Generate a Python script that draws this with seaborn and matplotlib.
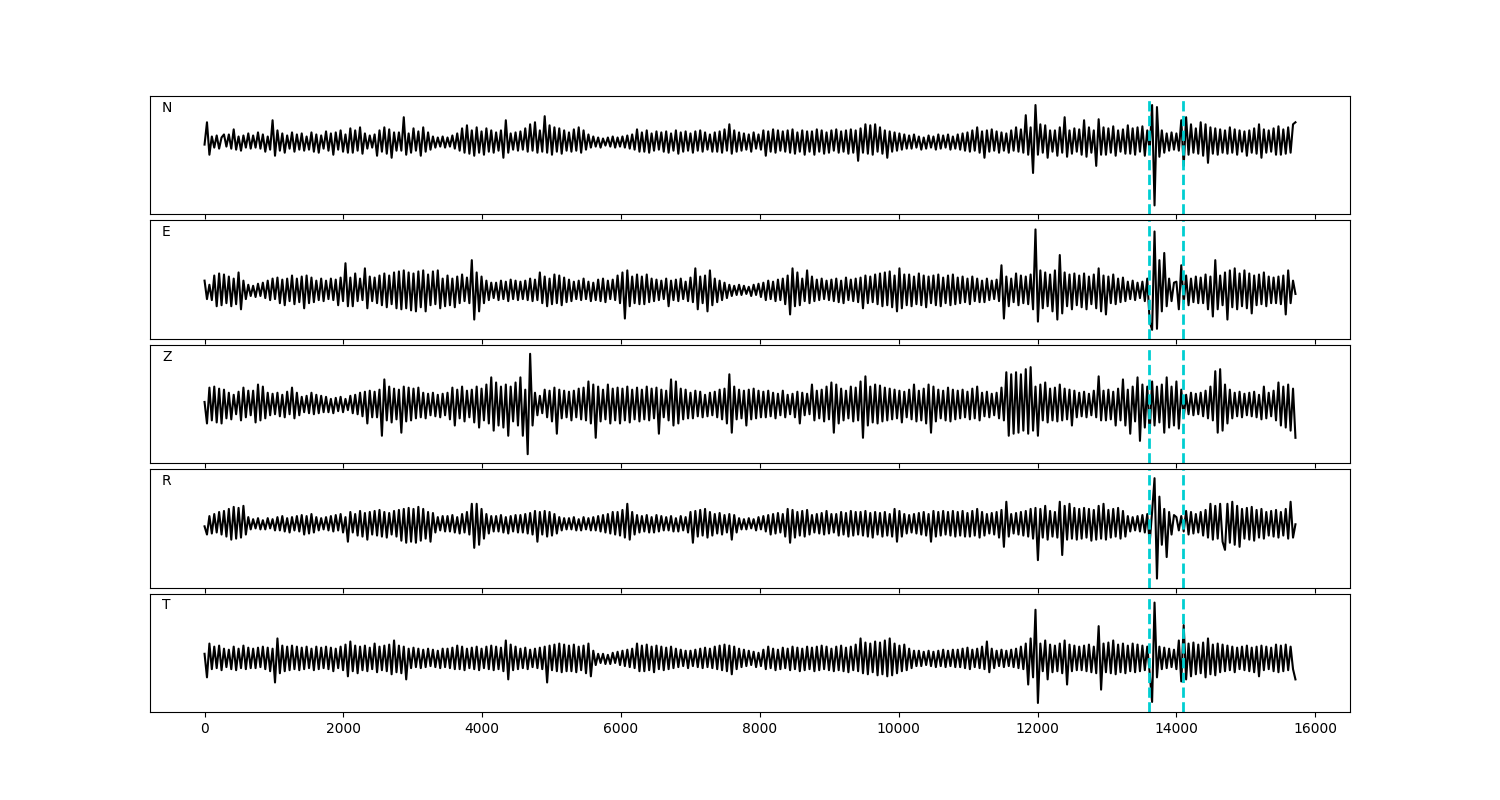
import numpy as np
import matplotlib
matplotlib.use("Agg")
import matplotlib.pyplot as plt
import seaborn as sns

# Component names
components = ["N", "E", "Z", "R", "T"]

# Sample spacing between the listed trace values (samples)
dt = 35

# Phase picks (sample index)
picks = [13600, 14090]

# Trace values (relative to baseline)
N = [
    -2, 20, -12, 6, -5, 7, -6, 5, 8, -4,
    8, -6, 13, -7, 6, -8, 7, -5, 9, -6,
    7, -5, 10, -6, 8, -9, 6, -7, 22, -13,
    12, -8, 9, -10, 7, -6, 10, -9, 8, -7,
    9, -8, 6, -7, 10, -9, 8, -10, 7, -6,
    11, -8, 9, -12, 10, -7, 12, -9, 8, -10,
    14, -10, 12, -8, 15, -11, 9, -6, 7, -5,
    8, -13, 12, -9, 15, -11, 13, -15, 10, -8,
    10, -8, 25, -12, 9, -10, 14, -8, 11, -13,
    15, -9, 10, -7, 6, -5, 5, -4, 6, -5,
    5, -4, 7, -6, 9, -8, 14, -10, 17, -11,
    12, -13, 15, -10, 11, -12, 14, -9, 12, -10,
    10, -8, 12, -15, 22, -10, 9, -7, 10, -8,
    11, -7, 14, -9, 18, -8, 20, -10, 12, -9,
    26, -10, 17, -12, 15, -9, 14, -11, 12, -8,
    10, -9, 13, -8, 15, -10, 12, -7, 8, -5,
    6, -4, 5, -5, 4, -3, 5, -4, 6, -5,
    5, -4, 6, -5, 7, -6, 8, -7, 13, -9,
    10, -9, 12, -10, 9, -8, 11, -7, 10, -9,
    11, -10, 9, -8, 12, -11, 10, -9, 11, -8,
    9, -10, 11, -8, 12, -9, 10, -7, 8, -9,
    10, -9, 11, -10, 13, -8, 18, -11, 12, -9,
    10, -8, 9,
    -7, 8, -9, 10, -6, 8, -7,
    12, -13, 11, -9, 13, -10, 12, -8, 11, -9,
    12, -10, 13, -11, 10, -9, 12, -12, 11, -9,
    11, -12, 13, -9, 12, -11, 10, -10, 12, -8,
    13, -10, 11, -9, 12, -11, 13, -10, 12, -18,
    14, -10, 18, -11, 17, -12, 18, -9, 15, -11,
    12, -15, 11, -9, 10, -8, 9, -7, 8, -6,
    7, -6, 8, -5, 6, -7, 5, -6, 7, -5,
    6, -7, 8, -6, 7, -5, 8, -7, 6, -6,
    8, -7, 9, -8, 10, -9, 12, -8, 15, -10,
    11, -15, 12, -9, 13, -8, 11, -10, 10, -8,
    9, -10, 12, -8, 15, -9, 13, -10, 27, -12,
    15, -30, 37, -12, 18, -10, 17, -15, 12, -9,
    12, -13, 15, -10, 25, -14, 12, -11, 14, -9,
    13, -12, 22, -14, 15, -10, 12, -23, 23, -12,
    15, -12, 14, -10, 16, -13, 12, -9, 13, -11,
    17, -11, 14, -12, 15, -9, 16, -13, 12, -8,
    37, -62, 35, -14, 12, -10, 9, -8, 10, -7,
    9, -8, 22, -23, 25, -12, 18, -10, 14, -11,
    20, -13, 18, -20, 15, -11, 14, -12, 13, -10,
    12, -11, 15, -10, 13, -12, 12, -9, 11, -13,
    12, -10, 14, -11, 18, -15, 13, -10, 12, -9,
    14, -12, 16, -12, 13, -11, 15, -10, 18, 20,
]

E = [
    10, -8, 6, -9, 15, -15, 17, -14, 16, -12,
    14, -15, 12, -13, 18, -18, 10, -8, 6, -5,
    5, -6, 7, -5, 8, -7, 10, -9, 12, -8,
    13, -12, 11, -14, 12, -10, 15, -13, 12, -11,
    14, -17, 15, -12, 13, -11, 10, -9, 12, -10,
    10, -8, 12, -9, 11, -14, 13, -10, 27, -15,
    13, -15, 17, -10, 12, -9, 22, -17, 14, -10,
    13, -12, 15, -14, 17, -16, 15, -13, 18, -17,
    19, -18, 20, -17, 18, -19, 17, -20, 19, -16,
    20, -20, 16, -14, 19, -13, 20, -17, 12, -15,
    15, -14, 12, -16, 14, -12, 16, -10, 13, -12,
    30, -28, 18, -20, 14, -12, 10, -9, 8, -7,
    8, -9, 10, -8, 9, -10, 11, -8, 10, -9,
    9, -8, 10, -9, 12, -10, 11, -9, 18, -12,
    14, -15, 12, -13, 16, -12, 15, -14, 13, -11,
    11, -10, 9, -8, 10, -9, 12, -8, 9, -10,
    8, -9, 11, -10, 12, -11, 10, -8, 11, -9,
    15, -12, 18, -27, 20, -15, 14, -12, 16, -13,
    14, -13, 16, -11, 12, -10, 11, -9, 10, -8,
    12, -15, 10, -9, 11, -10, 12, -8, 9, -10,
    13, -11, 22, -18, 14, -12, 15, -20, 20, -14,
    12, -11, 10, -9, 8, -7, 6, -5, 5, -4,
    6, -4, 5,
    -3, 4, -5, 6, -4, 7, -6,
    8, -9, 10, -8, 9, -10, 11, -9, 12, -13,
    15, -23, 22, -15, 18, -14, 12, -10, 20, -12,
    14, -10, 11, -9, 12, -8, 10, -9, 11, -10,
    12, -11, 10, -12, 13, -9, 11, -10, 12, -11,
    13, -17, 15, -12, 14, -11, 16, -13, 17, -15,
    18, -14, 19, -16, 15, -20, 22, -17, 16, -14,
    16, -15, 14, -13, 17, -14, 15, -16, 14, -12,
    15, -14, 16, -15, 13, -12, 15, -14, 16, -13,
    13, -12, 14, -11, 12, -13, 14, -10, 12, -11,
    10, -11, 12, -9, 10, -8, 11, -10, 25, -27,
    14, -15, 12, -11, 17, -14, 15, -12, 14, -13,
    16, -18, 60, -30, 20, -17, 18, -15, 16, -20,
    20, -28, 35, -22, 18, -15, 16, -18, 17, -14,
    15, -16, 17, -18, 14, -13, 16, -17, 22, -20,
    15, -23, 14, -12, 16, -13, 12, -11, 13, -10,
    9, -8, 10, -9, 8, -7, 9, -10, 12, -30,
    -38, 58, -37, 30, -20, 37, -15, 12, -10, 8,
    9, -18, 25, -12, 15, -14, 12, -11, 14, -12,
    13, -12, 16, -18, 14, -25, 30, -18, 15, -14,
    18, -28, 20, -16, 22, -18, 17, -15, 20, -17,
    17, -22, 15, -14, 16, -13, 18, -15, 14, -12,
    13, -12, 14, -13, 15, -23, 20, -12, 10, -3,
]

Z = [
    3, -18, 17, -15, 18, -17, 16, -18, 15, -13,
    12, -14, 10, -9, 13, -15, 17, -12, 14, -10,
    14, -17, 20, -15, 18, -13, 12, -10, 11, -9,
    12, -11, 10, -12, 13, -9, 17, -13, 12, -10,
    8, -7, 9, -8, 12, -9, 10, -8, 9, -7,
    8, -7, 6, -8, 7, -6, 8, -7, 6, -5,
    9, -8, 10, -9, 12, -11, 13, -18, 14, -12,
    13, -12, 15, -30, 25, -15, 18, -17, 16, -14,
    15, -27, 18, -16, 17, -15, 16, -13, 17, -12,
    12, -13, 11, -10, 12, -11, 10, -12, 11, -10,
    12, -14, 17, -20, 15, -13, 18, -16, 14, -12,
    15, -17, 18, -22, 16, -15, 20, -18, 27, -25,
    22, -20, 18, -22, 20, -30, 18, -16, 22, -20,
    27, -30, 15, -48, 50, -20, 12, -10, 9, -8,
    15, -12, 14, -16, 17, -28, 15, -13, 14, -12,
    13, -15, 14, -12, 16, -14, 17, -15, 23, -18,
    20, -32, 18, -16, 15, -14, 20, -18, 16, -15,
    17, -18, 16, -15, 18, -17, 15, -14, 17, -16,
    15, -14, 18, -15, 16, -13, 17, -28, 15, -12,
    14, -15, 25, -20, 23, -18, 16, -14, 15, -13,
    12, -13, 14, -11, 13, -12, 10, -11, 12, -10,
    13, -12, 15, -14, 16, -18, 30, -27, 18, -14,
    15, -13, 14,
    -20, 15, -14, 16, -13, 14, -12,
    13, -12, 14, -11, 12, -13, 11, -10, 14, -12,
    10, -9, 11, -12, 13, -18, 12, -10, 11, -9,
    20, -15, 14, -13, 15, -16, 18, -14, 22, -27,
    20, -18, 16, -15, 14, -13, 18, -16, 17, -15,
    23, -32, 28, -20, 18, -17, 20, -18, 19, -16,
    17, -15, 16, -14, 15, -13, 14, -17, 13, -12,
    15, -14, 20, -16, 14, -15, 16, -18, 20, -27,
    18, -16, 15, -13, 14, -15, 17, -16, 15, -14,
    14, -13, 15, -12, 13, -14, 16, -13, 18, -15,
    12, -11, 13, -12, 11, -10, 12, -13, 17, -15,
    32, -30, 30, -28, 32, -27, 30, -25, 35, -28,
    37, -25, 18, -30, 20, -15, 22, -17, 16, -15,
    17, -16, 20, -15, 16, -14, 15, -20, 14, -12,
    12, -11, 13, -12, 11, -10, 14, -12, 28, -15,
    14, -15, 15, -14, 13, -20, 16, -15, 25, -20,
    15, -28, 18, -16, 27, -35, 20, -22, 18, -27,
    23, -20, 18, -17, 20, -27, 27, -22, 18, -20,
    23, -23, 15, -12, 10, -9, 12, -10, 11, -9,
    12, -11, 14, -13, 18, -15, 33, -27, 35, -25,
    20, -18, 15, -13, 12, -11, 13, -12, 11, -10,
    12, -11, 13, -12, 10, -14, 18, -13, 12, -11,
    14, -15, 22, -20, 18, -22, 20, -25, 16, -32,
]

R = [
    -2, -10, 8, -9, 10, -8, 12, -10, 13, -12,
    15, -15, 17, -14, 16, -13, 18, -10, 7, -5,
    5, -4, 6, -5, 4, -5, 6, -4, 5, -6,
    7, -6, 8, -7, 6, -8, 7, -6, 8, -7,
    9, -10, 8, -9, 10, -8, 7, -6, 6, -5,
    7, -6, 8, -7, 9, -6, 10, -8, 7, -17,
    12, -8, 10, -11, 13, -12, 11, -15, 12, -10,
    13, -11, 14, -12, 12, -13, 11, -10, 13, -12,
    14, -16, 15, -18, 16, -17, 15, -18, 17, -16,
    15, -14, 12, -17, 11, -8, 7, -6, 8, -7,
    8, -7, 9, -8, 7, -9, 10, -8, 12, -10,
    20, -23, 20, -20, 15, -14, 10, -9, 8, -7,
    8, -7, 9, -8, 7, -9, 8, -7, 9, -8,
    9, -8, 10, -9, 11, -10, 13, -17, 12, -10,
    13, -12, 12, -11, 10, -9, 7, -6, 6, -5,
    6, -5, 7, -6, 5, -6, 7, -5, 6, -6,
    7, -6, 8, -7, 9, -8, 10, -9, 12, -10,
    12, -11, 14, -13, 20, -15, 12, -10, 9, -8,
    8, -7, 9, -8, 7, -8, 9, -7, 8, -6,
    7, -6, 8, -7, 6, -7, 8, -6, 7, -8,
    12, -18, 13, -12, 14, -11, 15, -13, 12, -11,
    10, -9, 11, -10, 9, -8, 10, -15, 9, -8,
    6, -5, 5,
    -5, 6, -4, 5, -6, 7, -5,
    8, -7, 9, -10, 10, -9, 11, -8, 10, -12,
    15, -18, 14, -13, 12, -11, 13, -12, 14, -10,
    9, -8, 10, -9, 11, -10, 13, -9, 10, -8,
    10, -11, 12, -10, 11, -12, 13, -11, 12, -10,
    12, -11, 13, -12, 11, -13, 12, -10, 11, -12,
    12, -11, 10, -12, 15, -17, 13, -12, 10, -9,
    9, -8, 10, -9, 11, -10, 12, -11, 10, -17,
    13, -12, 12, -11, 13, -10, 12, -11, 13, -12,
    12, -11, 13, -12, 11, -12, 13, -11, 15, -13,
    12, -11, 10, -9, 11, -10, 12, -13, 14, -22,
    22, -12, 10, -9, 11, -10, 12, -11, 13, -12,
    15, -14, 16, -35, 15, -13, 18, -15, 13, -12,
    12, -13, 22, -30, 18, -15, 20, -14, 16, -15,
    15, -14, 16, -13, 15, -16, 14, -15, 18, -14,
    20, -15, 14, -13, 15, -12, 16, -14, 13, -12,
    8, -7, 7, -6, 8, -7, 9, -8, 10, -18,
    12, 45, -53, 27, -20, 15, -32, 12, -10, 9,
    7, -6, 8, -7, 13, -10, 12, -9, 10, -8,
    12, -11, 14, -13, 20, -15, 18, -14, 20, -17,
    -25, 20, -18, 22, -20, 18, -22, 15, -14, 16,
    -15, 17, -16, 14, -13, 15, -14, 12, -11, 13,
    -12, 14, -13, 12, -11, 15, -14, 22, -13, 0,
]

T = [
    5, -18, 15, -10, 12, -9, 13, -11, 10, -8,
    9, -10, 12, -11, 10, -9, 13, -10, 11, -9,
    10, -9, 11, -8, 12, -10, 11, -12, 10, -23,
    20, -14, 13, -12, 12, -11, 13, -10, 12, -11,
    11, -10, 12, -9, 10, -11, 12, -10, 11, -9,
    12, -10, 11, -12, 10, -9, 12, -11, 14, -17,
    17, -12, 13, -14, 12, -11, 13, -12, 11, -10,
    15, -13, 12, -11, 13, -12, 14, -15, 18, -13,
    13, -14, 12, -20, 10, -9, 11, -8, 10, -9,
    9, -8, 10, -7, 9, -8, 8, -9, 10, -8,
    10, -9, 11, -10, 13, -10, 12, -11, 10, -9,
    11, -10, 12, -11, 10, -9, 12, -10, 13, -11,
    12, -10, 11, -12, 18, -20, 14, -11, 12, -10,
    10, -9, 11, -10, 9, -8, 10, -9, 11, -10,
    12, -23, 13, -11, 14, -12, 15, -13, 14, -12,
    13, -12, 14, -13, 12, -11, 13, -14, 15, -17,
    8, -6, 5, -4, 5, -5, 4, -5, 6, -4,
    7, -6, 8, -7, 9, -8, 10, -9, 15, -12,
    13, -12, 14, -11, 12, -13, 13, -10, 12, -11,
    11, -10, 12, -9, 10, -8, 9, -7, 8, -9,
    8, -7, 9, -8, 10, -9, 11, -8, 10, -9,
    12, -10, 13, -11, 14, -12, 13, -15, 12, -10,
    10, -8, 9,
    -7, 8, -6, 7, -8, 6, -7,
    9, -10, 12, -9, 10, -11, 9, -10, 11, -9,
    10, -11, 12, -10, 11, -12, 10, -11, 12, -10,
    11, -12, 12, -11, 13, -10, 12, -11, 10, -12,
    12, -11, 13, -12, 11, -13, 12, -11, 14, -12,
    20, -14, 16, -15, 15, -13, 17, -16, 16, -15,
    18, -17, 20, -16, 15, -14, 13, -12, 14, -11,
    10, -9, 8, -7, 8, -7, 7, -6, 8, -7,
    7, -8, 8, -7, 9, -8, 8, -7, 9, -8,
    9, -8, 10, -9, 11, -10, 9, -8, 10, -9,
    12, -10, 17, -13, 10, -9, 8, -7, 9, -8,
    8, -7, 9, -8, 10, -9, 12, -10, 15, -25,
    20, -18, 48, -43, 15, -12, 18, -20, 14, -13,
    13, -12, 15, -14, 18, -25, 14, -12, 13, -11,
    12, -11, 13, -12, 14, -13, 12, -14, 32, -30,
    15, -13, 16, -14, 18, -15, 14, -13, 15, -14,
    13, -12, 15, -13, 14, -12, 13, -11, 12, -14,
    -42, 55, -18, 12, -10, 11, -9, 10, -8, 9,
    -10, 18, -22, 33, -20, 15, -17, 16, -15, 14,
    -14, 16, -18, 20, -15, 14, -16, 15, -13, 14,
    -12, 13, -11, 12, -13, 11, -10, 12, -11, 13,
    -12, 11, -13, 12, -17, 13, -11, 12, -10, 11,
    -12, 14, -13, 13, -12, 14, -11, 12, -10, -20,
]

traces = [N, E, Z, R, T]

fig, axes = plt.subplots(5, 1, figsize=(15, 8), dpi=100, sharex=True)
fig.subplots_adjust(left=0.1, right=0.9, top=0.88, bottom=0.11, hspace=0.05)

for ax, name, vals in zip(axes, components, traces):
    t = np.arange(len(vals)) * dt
    sns.lineplot(x=t, y=np.asarray(vals, dtype=float), ax=ax,
                 color="black", linewidth=1.5)
    for p in picks:
        ax.axvline(p, color="darkturquoise", linestyle="--", linewidth=2)
    ax.set_yticks([])
    ax.set_ylabel("")
    ax.margins(y=0.09)
    ax.text(0.01, 0.9, name, transform=ax.transAxes, ha="left",
            va="center", fontsize=10)

fig.savefig("out.png", dpi=100)
